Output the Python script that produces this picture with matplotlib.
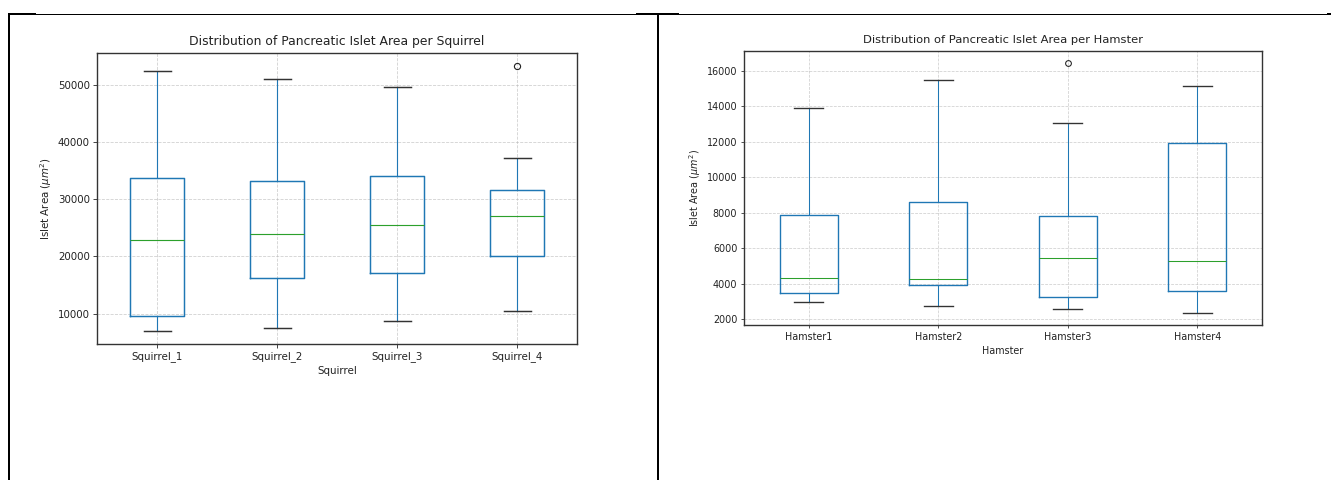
import matplotlib
matplotlib.use("Agg")
import matplotlib.pyplot as plt
from matplotlib.lines import Line2D

# === Figure size in pixels ===
W, H = 1331, 480

# === Data: box statistics ===
squirrel_labels = ["Squirrel_1", "Squirrel_2", "Squirrel_3", "Squirrel_4"]
squirrel_whislo = [7040, 7440, 8730, 10520]
squirrel_q1 = [9600, 16290, 17160, 20000]
squirrel_med = [22960, 23950, 25470, 27040]
squirrel_q3 = [33660, 33240, 34060, 31670]
squirrel_whishi = [52370, 50980, 49530, 37140]
squirrel_fliers = [[], [], [], [53190]]

hamster_labels = ["Hamster1", "Hamster2", "Hamster3", "Hamster4"]
hamster_whislo = [2940, 2750, 2580, 2372]
hamster_q1 = [3500, 3910, 3233, 3607]
hamster_med = [4345, 4270, 5420, 5274]
hamster_q3 = [7850, 8600, 7840, 11900]
hamster_whishi = [13920, 15495, 13080, 15120]
hamster_fliers = [[], [], [16410], []]

fig = plt.figure(figsize=(W / 100, H / 100), dpi=100)
fig.patch.set_facecolor("white")


def px_rect(x0, y0, x1, y1):
    # pixel box (top-left origin) -> figure fraction rect
    return [x0 / W, 1 - y1 / H, (x1 - x0) / W, (y1 - y0) / H]


def draw_panel(rect, labels, whislo, q1, med, q3, whishi, fliers,
               title, xlabel, s, title_pad):
    ax = fig.add_axes(rect)
    stats = []
    for lab, lo, a, m, b, hi, fl in zip(labels, whislo, q1, med, q3, whishi, fliers):
        stats.append(dict(label=lab, whislo=lo, q1=a, med=m, q3=b, whishi=hi, fliers=fl))
    lw = 1.1 * s
    ax.bxp(stats, widths=0.45,
           boxprops=dict(color="#1f77b4", linewidth=lw * 1.3),
           whiskerprops=dict(color="#1f77b4", linewidth=lw),
           capprops=dict(color="#333333", linewidth=lw * 1.3),
           medianprops=dict(color="#2ca02c", linewidth=lw),
           flierprops=dict(marker="o", markerfacecolor="none",
                           markeredgecolor="#222222", markersize=6 * s,
                           markeredgewidth=lw))
    ax.grid(True, linestyle="--", color="#b0b0b0", alpha=0.6, linewidth=0.8 * s)
    ax.set_axisbelow(True)
    fs = 10 * s
    ax.set_title(title, fontsize=fs * 1.2, pad=title_pad, color="#222222")
    ax.set_xlabel(xlabel, fontsize=fs, labelpad=4 * s, color="#222222")
    ax.set_ylabel(r"Islet Area ($\mu m^2$)", fontsize=fs, labelpad=4 * s, color="#222222")
    ax.tick_params(labelsize=fs, length=3.5 * s, width=0.8 * s, pad=3.5 * s,
                   colors="#222222")
    for sp in ax.spines.values():
        sp.set_color("#333333")
        sp.set_linewidth(1.0)
    return ax


draw_panel(px_rect(97, 53, 577, 344), squirrel_labels, squirrel_whislo,
           squirrel_q1, squirrel_med, squirrel_q3, squirrel_whishi,
           squirrel_fliers, "Distribution of Pancreatic Islet Area per Squirrel",
           "Squirrel", 0.74, 5.5)

draw_panel(px_rect(744, 51, 1262, 325), hamster_labels, hamster_whislo,
           hamster_q1, hamster_med, hamster_q3, hamster_whishi,
           hamster_fliers, "Distribution of Pancreatic Islet Area per Hamster",
           "Hamster", 0.69, 6.0)


# === Document table borders around the two charts ===
def px_line(x0, y0, x1, y1, width_px):
    fig.add_artist(Line2D([x0 / W, x1 / W], [1 - y0 / H, 1 - y1 / H],
                          transform=fig.transFigure, color="black",
                          linewidth=width_px * 0.72, solid_capstyle="butt"))


px_line(8, 13.8, W, 13.8, 1)
px_line(8, 14.3, 36, 14.3, 2)
px_line(636, 14.3, 679, 14.3, 2)
px_line(1327, 14.3, W, 14.3, 2)
px_line(9, 13.3, 9, H, 2)
px_line(658, 14.3, 658, H, 2)

fig.savefig("out.png", dpi=100, facecolor="white")
